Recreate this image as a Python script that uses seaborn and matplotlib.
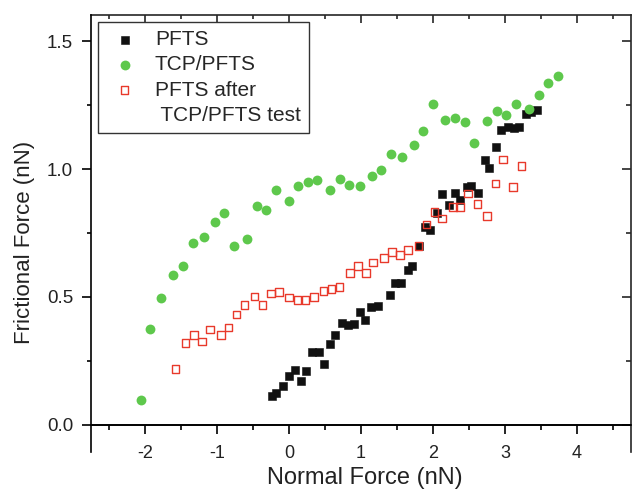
import matplotlib
matplotlib.use("Agg")
import matplotlib.pyplot as plt
from matplotlib.lines import Line2D
from matplotlib.ticker import MultipleLocator, FormatStrFormatter
import seaborn as sns

# PFTS (filled black squares)
pfts_x = [-0.24, -0.18, -0.09, 0.00, 0.08, 0.16, 0.24, 0.32, 0.41, 0.49, 0.57, 0.64,
          0.74, 0.82, 0.90, 0.99, 1.06, 1.14, 1.24, 1.40, 1.47, 1.56, 1.65, 1.71,
          1.80, 1.89, 1.96, 2.05, 2.12, 2.22, 2.31, 2.375, 2.47, 2.53, 2.62, 2.72,
          2.78, 2.87, 2.94, 3.04, 3.13, 3.19, 3.29, 3.37, 3.44]
pfts_y = [0.114, 0.124, 0.153, 0.189, 0.213, 0.170, 0.209, 0.286, 0.286, 0.237, 0.314, 0.350,
          0.399, 0.390, 0.393, 0.440, 0.410, 0.462, 0.465, 0.509, 0.553, 0.553, 0.607, 0.622,
          0.700, 0.772, 0.760, 0.829, 0.903, 0.858, 0.905, 0.879, 0.929, 0.932, 0.905, 1.036,
          1.006, 1.085, 1.153, 1.166, 1.161, 1.166, 1.216, 1.222, 1.230]

# TCP/PFTS (green circles)
tcp_x = [-2.06, -1.93, -1.78, -1.61, -1.47, -1.337, -1.18, -1.03, -0.90, -0.76, -0.59,
         -0.45, -0.315, -0.185, 0.00, 0.13, 0.26, 0.39, 0.57, 0.71, 0.84, 0.99, 1.153,
         1.28, 1.42, 1.57, 1.73, 1.86, 2.00, 2.17, 2.31, 2.44, 2.57, 2.75, 2.89, 3.02,
         3.16, 3.34, 3.47, 3.60, 3.74]
tcp_y = [0.098, 0.376, 0.494, 0.584, 0.622, 0.710, 0.736, 0.793, 0.827, 0.700, 0.728,
         0.856, 0.841, 0.920, 0.874, 0.935, 0.951, 0.956, 0.919, 0.963, 0.939, 0.934, 0.973,
         0.997, 1.058, 1.048, 1.096, 1.151, 1.255, 1.191, 1.198, 1.186, 1.104, 1.189, 1.226, 1.211,
         1.256, 1.234, 1.290, 1.336, 1.363]

# PFTS after TCP/PFTS test (open red squares)
after_x = [-1.58, -1.44, -1.32, -1.21, -1.10, -0.95, -0.84, -0.73, -0.62, -0.48, -0.37,
           -0.25, -0.14, 0.00, 0.115, 0.23, 0.35, 0.48, 0.59, 0.70, 0.85, 0.96, 1.07,
           1.17, 1.32, 1.43, 1.54, 1.65, 1.80, 1.91, 2.02, 2.13, 2.28, 2.38, 2.49, 2.62,
           2.75, 2.87, 2.97, 3.11, 3.23]
after_y = [0.217, 0.320, 0.352, 0.326, 0.373, 0.350, 0.381, 0.431, 0.468, 0.502, 0.468,
           0.513, 0.519, 0.497, 0.488, 0.487, 0.500, 0.524, 0.530, 0.538, 0.594, 0.621, 0.594,
           0.634, 0.652, 0.676, 0.663, 0.684, 0.700, 0.783, 0.831, 0.806, 0.852, 0.852, 0.905, 0.864,
           0.817, 0.943, 1.037, 0.930, 1.012]

labels = ["PFTS", "TCP/PFTS", "PFTS after", " TCP/PFTS test"]

BLACK = "#111111"
GREEN = "#5ec84c"
RED = "#e8392b"
TEXT = "#222222"

sns.set_style("ticks")
plt.rcParams["font.family"] = ["Liberation Sans", "DejaVu Sans"]
plt.rcParams["axes.unicode_minus"] = False

fig = plt.figure(figsize=(6.32, 4.91), dpi=100)
ax = fig.add_axes([0.1432, 0.0804, 0.8560, 0.8891])

sns.scatterplot(x=pfts_x, y=pfts_y, ax=ax, marker="s", s=34, color=BLACK,
                edgecolor=BLACK, linewidth=0.4, label=labels[0], zorder=3)
sns.scatterplot(x=after_x, y=after_y, ax=ax, marker="s", s=30, facecolor="none",
                edgecolor=RED, linewidth=1.0, label=labels[2], zorder=4)
sns.scatterplot(x=tcp_x, y=tcp_y, ax=ax, marker="o", s=50, color=GREEN,
                edgecolor=GREEN, linewidth=0, label=labels[1], zorder=5)

ax.set_xlim(-2.76, 4.76)
ax.set_ylim(-0.105, 1.603)

ax.spines["top"].set_visible(False)
ax.spines["right"].set_visible(False)
ax.spines["bottom"].set_position(("data", 0))
for sp in ["left", "bottom"]:
    ax.spines[sp].set_linewidth(1.2)
    ax.spines[sp].set_color("black")
# zero line of the x axis (drawn explicitly so it always shows)
ax.axhline(0, color="black", linewidth=1.2, zorder=2.6)

ax.xaxis.set_major_locator(MultipleLocator(1))
ax.xaxis.set_minor_locator(MultipleLocator(0.5))
ax.yaxis.set_major_locator(MultipleLocator(0.5))
ax.yaxis.set_minor_locator(MultipleLocator(0.25))
ax.yaxis.set_major_formatter(FormatStrFormatter("%.1f"))
ax.xaxis.set_major_formatter(FormatStrFormatter("%d"))

ax.tick_params(axis="x", which="major", direction="out", length=6.5, width=1.2,
               labelsize=13, pad=8, color="black", labelcolor=TEXT)
ax.tick_params(axis="x", which="minor", direction="out", length=3.5, width=1.2, color="black")
ax.tick_params(axis="y", which="major", direction="out", length=6.5, width=1.2,
               labelsize=13.5, pad=6, color="black", labelcolor=TEXT)
ax.tick_params(axis="y", which="minor", direction="out", length=3, width=1.2, color="black")

# top / right frame with inward ticks
top = ax.secondary_xaxis("top")
top.xaxis.set_major_locator(MultipleLocator(1))
top.xaxis.set_minor_locator(MultipleLocator(0.5))
top.tick_params(which="major", direction="in", length=6, width=1.2, labeltop=False)
top.tick_params(which="minor", direction="in", length=3, width=1.2)
top.spines["top"].set_linewidth(1.2)

right = ax.secondary_yaxis("right")
right.yaxis.set_major_locator(MultipleLocator(0.5))
right.yaxis.set_minor_locator(MultipleLocator(0.25))
right.tick_params(which="major", direction="in", length=6.5, width=1.2, labelright=False)
right.tick_params(which="minor", direction="in", length=3.5, width=1.2)
right.spines["right"].set_linewidth(1.2)

ax.set_xlabel("Normal Force (nN)", fontsize=17, color=TEXT)
ax.set_ylabel("Frictional Force (nN)", fontsize=16, color=TEXT)
ax.xaxis.set_label_coords(0.507, -0.036)
ax.yaxis.set_label_coords(-0.103, 0.48)

h = {lab: hd for hd, lab in zip(*ax.get_legend_handles_labels())}
blank = Line2D([], [], linestyle="none", marker="")
leg = ax.legend([h[labels[0]], h[labels[1]], h[labels[2]], blank], labels,
                loc="upper left", bbox_to_anchor=(0.0144, 0.9833), borderaxespad=0,
                frameon=True, fancybox=False, fontsize=15, labelspacing=0.3,
                handletextpad=0.56, handlelength=1.77, borderpad=0.38)
leg.get_frame().set_edgecolor("#333333")
leg.get_frame().set_linewidth(1.0)
leg.get_frame().set_alpha(1)

fig.savefig("out.png", dpi=100)
